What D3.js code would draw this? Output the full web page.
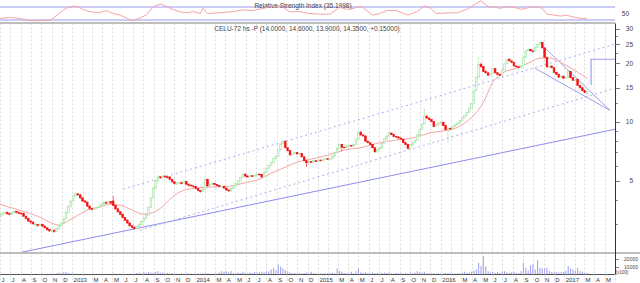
<!DOCTYPE html>
<html>
<head>
<meta charset="utf-8">
<script src="https://cdn.jsdelivr.net/npm/d3@7/dist/d3.min.js"></script>
<style>
  html, body { margin: 0; padding: 0; background: #fff; }
  svg { display: block; font-family: Arial, "Liberation Sans", sans-serif; }
</style>
</head>
<body>
<svg id="chart" width="640" height="283"></svg>
<script>
// Weekly candles, first one on 2012-06-01, one row per week: [open, high, low, close]
const firstWeek = "2012-06-01";
const candles = [
  [3.30,3.40,3.26,3.35],[3.35,3.45,3.32,3.42],[3.42,3.50,3.38,3.45],[3.45,3.48,3.36,3.40],[3.40,3.44,3.34,3.38],
  [3.38,3.48,3.36,3.45],[3.45,3.55,3.42,3.50],[3.50,3.52,3.42,3.46],[3.46,3.48,3.38,3.42],[3.42,3.45,3.36,3.40],
  [3.42,3.44,3.28,3.30],[3.30,3.32,3.18,3.22],[3.22,3.24,3.08,3.12],[3.12,3.14,3.02,3.08],[3.08,3.10,2.98,3.02],
  [2.98,3.04,2.94,3.00],[3.00,3.02,2.92,2.96],[2.96,3.04,2.94,3.00],[3.00,3.02,2.90,2.94],[2.94,2.96,2.85,2.88],
  [2.88,2.90,2.78,2.82],[2.82,2.84,2.74,2.78],[2.76,2.84,2.74,2.80],[2.80,2.82,2.72,2.76],[2.76,2.88,2.74,2.85],
  [2.85,2.98,2.82,2.95],[2.95,3.08,2.92,3.05],[3.05,3.24,3.02,3.20],[3.20,3.50,3.18,3.45],[3.45,3.75,3.42,3.70],
  [3.70,4.00,3.66,3.95],[3.95,4.25,3.90,4.20],[4.20,4.38,4.15,4.30],[4.30,4.34,4.18,4.25],[4.25,4.28,4.05,4.10],
  [4.10,4.12,3.92,3.95],[3.95,4.00,3.86,3.90],[3.90,3.92,3.68,3.72],[3.72,3.75,3.58,3.62],[3.62,3.66,3.54,3.58],
  [3.58,3.66,3.55,3.62],[3.62,3.70,3.60,3.66],[3.66,3.76,3.64,3.72],[3.72,3.84,3.70,3.80],[3.80,3.92,3.78,3.88],
  [3.88,3.92,3.82,3.86],[3.86,3.96,3.84,3.92],[3.92,3.95,3.82,3.85],[3.95,4.20,3.72,3.75],[3.75,3.78,3.56,3.60],
  [3.60,3.62,3.44,3.48],[3.48,3.50,3.34,3.38],[3.38,3.40,3.22,3.25],[3.25,3.28,3.12,3.15],[3.15,3.18,3.02,3.05],
  [3.05,3.08,2.92,2.95],[2.95,2.98,2.86,2.90],[2.90,2.92,2.82,2.86],[2.86,2.96,2.84,2.92],[2.92,3.04,2.90,3.00],
  [3.00,3.14,2.98,3.10],[3.10,3.26,3.08,3.22],[3.22,3.40,3.20,3.35],[3.35,3.70,3.32,3.65],[3.65,4.15,3.62,4.10],
  [4.10,4.65,4.05,4.60],[4.60,5.05,4.55,5.00],[5.00,5.35,4.95,5.25],[5.25,5.30,5.12,5.20],[5.20,5.40,5.15,5.30],
  [5.30,5.34,5.18,5.25],[5.25,5.32,5.15,5.20],[5.25,5.28,5.05,5.10],[5.10,5.12,4.92,4.95],[4.95,4.98,4.80,4.85],
  [4.82,4.92,4.78,4.88],[4.88,4.95,4.84,4.90],[4.90,4.94,4.80,4.85],[4.85,5.02,4.82,4.98],[4.98,5.00,4.78,4.82],
  [4.82,4.85,4.70,4.75],[4.75,4.80,4.68,4.72],[4.72,4.75,4.62,4.68],[4.68,4.70,4.54,4.58],[4.58,4.60,4.44,4.48],
  [4.48,4.50,4.36,4.42],[4.42,4.60,4.38,4.55],[4.55,5.20,4.50,5.10],[5.10,5.12,4.68,4.72],[4.72,4.86,4.70,4.80],
  [4.80,4.90,4.76,4.86],[4.86,4.88,4.76,4.80],[4.80,4.82,4.70,4.74],[4.74,4.76,4.64,4.68],[4.68,4.76,4.64,4.70],
  [4.70,4.72,4.56,4.60],[4.60,4.62,4.46,4.50],[4.50,4.52,4.40,4.45],[4.45,4.62,4.42,4.58],[4.58,4.76,4.55,4.72],
  [4.72,4.90,4.70,4.85],[4.85,5.05,4.82,5.00],[5.00,5.25,4.98,5.20],[5.20,5.48,5.18,5.42],[5.42,5.45,5.26,5.30],
  [5.30,5.34,5.20,5.25],[5.25,5.36,5.22,5.32],[5.32,5.35,5.24,5.28],[5.28,5.40,5.26,5.35],[5.35,5.46,5.32,5.42],
  [5.42,5.46,5.34,5.38],[5.40,5.42,5.20,5.25],[5.25,5.60,5.22,5.55],[5.55,5.85,5.50,5.80],[5.80,6.05,5.75,6.00],
  [6.00,6.25,5.95,6.20],[6.20,6.55,6.15,6.50],[6.50,6.75,6.45,6.70],[6.70,7.25,6.65,7.20],[7.20,7.80,7.15,7.75],
  [7.75,8.10,7.70,7.95],[7.95,8.10,7.35,7.40],[7.40,7.45,7.10,7.15],[7.15,7.20,6.75,6.80],[6.80,6.95,6.75,6.90],
  [6.90,7.05,6.85,7.00],[7.00,7.04,6.84,6.88],[6.88,6.96,6.84,6.92],[6.92,6.95,6.60,6.65],[6.65,6.68,6.30,6.35],
  [6.35,6.40,5.90,6.20],[6.20,6.32,6.15,6.28],[6.28,6.32,6.20,6.25],[6.25,6.40,6.22,6.35],[6.35,6.38,6.26,6.30],
  [6.30,6.45,6.28,6.40],[6.40,6.42,6.30,6.35],[6.35,6.50,6.32,6.45],[6.45,6.55,6.42,6.50],[6.50,6.52,6.40,6.45],
  [6.45,6.55,6.42,6.50],[6.50,6.75,6.48,6.70],[6.70,7.05,6.65,7.00],[7.00,7.40,6.95,7.35],[7.35,7.75,7.30,7.70],
  [7.70,7.75,7.10,7.45],[7.45,7.48,7.35,7.40],[7.40,7.60,7.36,7.55],[7.55,7.65,7.50,7.60],[7.60,7.62,7.50,7.55],
  [7.55,7.75,7.52,7.70],[7.70,8.25,7.65,8.20],[8.20,8.95,8.15,8.90],[8.90,9.00,8.55,8.60],[8.60,8.70,8.45,8.50],
  [8.50,8.55,7.95,8.00],[8.00,8.05,7.80,7.85],[7.85,7.90,7.65,7.70],[7.70,7.75,7.35,7.40],[7.40,7.45,7.00,7.05],
  [7.05,7.30,7.00,7.25],[7.25,7.45,7.20,7.40],[7.40,7.85,7.35,7.80],[7.80,8.25,7.75,8.20],[8.20,8.55,8.15,8.50],
  [8.50,8.90,8.45,8.80],[8.80,8.85,8.60,8.65],[8.65,8.70,8.40,8.45],[8.45,8.50,8.35,8.40],[8.40,8.45,8.25,8.30],
  [8.30,8.35,8.15,8.20],[8.20,8.25,7.80,7.85],[7.85,7.90,7.65,7.70],[7.70,7.75,7.30,7.35],[7.35,7.70,7.30,7.65],
  [7.65,7.95,7.60,7.90],[7.90,8.15,7.85,8.10],[8.10,8.65,8.05,8.60],[8.60,9.25,8.55,9.20],[9.20,9.85,9.15,9.80],
  [9.80,11.80,9.75,10.70],[10.70,10.90,10.40,10.50],[10.50,10.60,10.20,10.30],[10.30,10.40,10.00,10.10],[10.10,10.15,9.40,9.50],
  [9.50,9.80,9.45,9.70],[9.70,9.95,9.65,9.90],[9.90,10.10,9.85,10.00],[10.00,10.05,9.55,9.60],[9.60,9.65,9.10,9.15],
  [9.15,9.40,7.80,9.30],[9.30,9.40,9.15,9.25],[9.25,9.55,9.20,9.50],[9.50,9.75,9.45,9.70],[9.70,9.95,9.65,9.90],
  [9.90,10.25,9.85,10.20],[10.20,10.55,10.15,10.50],[10.50,10.85,10.45,10.80],[10.80,11.25,10.75,11.20],[11.20,11.85,11.15,11.80],
  [11.80,12.55,11.75,12.50],[12.50,14.60,12.45,14.50],[14.50,17.10,14.40,17.00],[17.00,21.50,16.90,19.80],[19.80,20.20,19.00,19.30],
  [19.30,19.40,18.10,18.20],[18.20,18.40,17.80,17.90],[17.90,18.00,17.30,17.40],[17.40,17.80,17.30,17.70],[17.70,18.90,17.60,18.80],
  [18.80,18.90,17.80,17.90],[17.90,18.00,17.50,17.60],[17.60,17.70,17.20,17.30],[17.30,18.60,17.20,18.50],[18.50,20.00,18.40,19.90],
  [19.90,21.10,19.80,21.00],[21.00,21.30,20.50,20.60],[20.60,20.70,20.10,20.20],[20.20,20.30,19.30,19.40],[19.40,19.50,19.10,19.20],
  [19.20,19.30,18.90,19.00],[19.00,19.50,18.90,19.40],[19.40,21.60,19.30,21.50],[21.50,23.30,21.40,23.20],[23.20,23.80,23.10,23.60],
  [23.60,23.70,23.10,23.20],[23.20,23.40,22.80,23.00],[23.00,24.30,22.90,24.20],[24.20,25.10,24.10,25.00],[25.00,25.90,24.90,25.60],
  [25.60,25.70,23.90,24.00],[24.00,24.10,21.40,21.50],[21.50,21.60,19.00,19.20],[19.20,19.60,19.00,19.40],[19.40,19.50,18.90,19.00],
  [19.00,19.10,17.90,18.00],[18.00,18.10,17.50,17.60],[17.60,17.70,16.90,17.00],[17.00,17.30,16.90,17.20],[17.20,17.30,16.70,16.80],
  [16.80,17.10,16.70,17.00],[17.00,18.30,16.90,18.20],[18.20,18.30,16.80,16.90],[16.90,17.00,16.30,16.40],[16.40,16.70,16.30,16.60],
  [16.60,16.70,15.30,15.40],[15.40,15.50,14.90,15.00],[15.00,15.10,14.40,14.50],[14.50,14.60,14.10,14.20],[14.00,14.60,13.90,14.35]
];

// Weekly volume, in hundreds of shares (same order as candles)
const volumes = [
  800,600,1000,700,500,900,600,800,700,500,1200,900,700,600,800,500,700,600,900,700,800,1000,700,900,
  1500,2600,1800,3000,3500,2200,
  1200,1500,900,800,1000,700,600,900,800,500,600,700,900,800,600,700,500,800,1400,900,700,800,600,900,700,1000,800,900,
  1800,2400,1500,2800,2000,3000,2500,2200,3200,4300,2400,2800,1600,2200,1400,1800,
  1300,1100,900,1200,1000,1400,900,1100,800,1000,900,1200,1500,2200,1400,1000,900,1100,1200,
  2800,4300,3600,4000,3000,4300,2000,1500,2500,1800,3500,2200,1600,2600,2000,3200,2400,2800,3600,
  3000,4300,4000,6500,8700,5500,13000,10400,7800,5500,4300,2800,1800,2200,1500,2000,1400,1800,2500,
  1600,3500,2000,1500,1200,1300,1400,1200,1600,1800,2200,1800,7800,4300,3500,2200,1800,1500,3500,1800,
  4200,7800,3000,2200,3500,2000,1600,2500,1800,2200,1500,2000,2600,1800,2400,1700,1500,2200,1600,1800,1400,2000,1600,2200,1500,2600,
  4300,3000,2400,3500,2000,1600,1400,1800,1300,1500,1200,1400,1800,2200,1300,1500,1200,1400,1600,
  1800,3500,2200,2800,3600,5200,6500,15000,11000,23400,10400,4300,2800,3500,2200,3000,2000,4000,
  4300,2800,2200,3000,3500,2000,1800,4300,15000,8700,5000,12000,13000,6500,18600,8700,7800,8000,8700,
  4300,3500,3000,3500,2500,3000,3500,5000,10800,8000,6500,5000,8700,4300,3500,2200,2000
];

// RSI (week index, value)
const rsiWeeks = [0,4,8,13,17,21,22,25,28,31,33,35,38,42,45,48,51,54,56,59,62,65,68,71,73,76,79,82,85,86,
  88,93,99,103,107,112,115,117,119,121,123,127,131,136,140,144,147,150,153,156,158,161,164,168,173,177,180,182,185,190,
  194,198,202,204,207,209,212,215,218,221,225,228,230,232,235,238,240,243,246,249];
const rsiValues = [35,38,35,28,28,30,32,50,66,73,71,63,56,52,59,50,45,35,28,35,45,71,79,71,63,56,52,56,50,66,
  50,52,56,61,59,66,73,70,75,64,55,56,50,48,48,69,63,66,73,56,45,50,59,59,45,56,73,69,50,52,
  52,63,81,89,71,71,66,71,69,63,69,71,66,48,45,42,45,40,35,35.2];

// Moving average line (week index, price)
const maWeeks = [0,8,17,21,25,28,33,37,42,47,51,56,61,64,68,72,76,83,90,97,104,111,115,121,126,134,139,146,154,160,
  168,175,182,187,192,196,202,205,209,213,219,225,229,233,240,247,249];
const maValues = [3.80,3.55,3.26,3.08,2.97,3.08,3.34,3.55,3.67,3.80,3.76,3.55,3.38,3.42,3.62,4.02,4.38,4.60,4.66,4.70,
  4.90,5.17,5.48,5.88,6.24,6.55,6.78,7.20,7.45,7.80,8.10,8.30,8.80,9.00,9.20,9.70,11.20,12.60,16.00,17.80,
  18.90,20.30,21.30,21.30,19.60,17.40,16.80];

// Drawn lines: [date, price] end points
const supportLine = [["2012-08-05", 2.16], ["2017-06-01", 9.2]];
const channelUpper = [["2013-06-01", 4.54], ["2017-06-01", 25.1]];
const channelLower = [["2013-07-22", 2.80], ["2017-06-01", 14.93]];
const wedgeUpper = [["2016-10-21", 25.4], ["2017-05-17", 11.5]];
const wedgeLower = [["2016-10-06", 18.9], ["2017-05-17", 11.5]];
const targetStep = [["2017-03-22", 15.5], ["2017-03-22", 21.0], ["2017-06-01", 21.0]];

const priceLabels = [5, 10, 15, 20, 25, 30];
const priceMinorTicks = [3, 4, 6, 7, 8, 9, 12.5, 17.5, 22.5, 27.5];
const rsiLevels = [30, 70];
const volumeLabels = [10000, 20000];

const title = "CELU-72 hs -P (14.0000, 14.6000, 13.9000, 14.3500, +0.15000)";
const rsiTitle = "Relative Strength Index (35.1998)";

// Layout
const plotRight = 615;
const rsiBottom = 22.5;
const mainTop = 23.5;
const mainBottom = 252.5;
const volBottom = 274.5;

const parse = d3.timeParse("%Y-%m-%d");
const start = parse(firstWeek);
const weekDate = (i) => d3.timeDay.offset(start, 7 * i);

const x = d3.scaleTime()
  .domain([parse("2012-06-01"), parse("2017-06-01")])
  .range([0, plotRight]);
const yPrice = d3.scaleLog().domain([5, 30]).range([181, 29]);
const yRsi = d3.scaleLinear().domain([30, 70]).range([20, 7]);
const yVol = d3.scaleLinear().domain([0, 20000]).range([volBottom, 259]);

const svg = d3.select("#chart");

svg.append("defs").append("clipPath").attr("id", "mainClip")
  .append("rect")
  .attr("x", 0).attr("y", mainTop)
  .attr("width", plotRight).attr("height", mainBottom - mainTop);

svg.append("defs").append("clipPath").attr("id", "rsiClip")
  .append("rect")
  .attr("x", 0).attr("y", 0)
  .attr("width", plotRight).attr("height", rsiBottom);

// Month grid lines through price and volume panels
const months = d3.timeMonth.range(x.domain()[0], d3.timeDay.offset(x.domain()[1], 1));
svg.append("g")
  .selectAll("line")
  .data(months)
  .enter()
  .append("line")
  .attr("x1", (d) => Math.round(x(d)) + 0.5)
  .attr("x2", (d) => Math.round(x(d)) + 0.5)
  .attr("y1", mainTop)
  .attr("y2", volBottom)
  .attr("stroke", "#d2d2d2")
  .attr("stroke-width", 0.8)
  .attr("stroke-dasharray", "2,2");

// RSI panel
svg.append("g")
  .selectAll("line")
  .data(rsiLevels)
  .enter()
  .append("line")
  .attr("x1", 0)
  .attr("x2", plotRight)
  .attr("y1", (d) => yRsi(d))
  .attr("y2", (d) => yRsi(d))
  .attr("stroke", "#9a9af2")
  .attr("stroke-width", 1);

svg.append("text")
  .attr("x", 303)
  .attr("y", 7.5)
  .attr("text-anchor", "middle")
  .attr("font-size", 6.5)
  .attr("fill", "#444")
  .text(rsiTitle);

const rsiLine = d3.line()
  .x((d, i) => x(weekDate(rsiWeeks[i])))
  .y((d) => yRsi(d));

svg.append("path")
  .datum(rsiValues)
  .attr("clip-path", "url(#rsiClip)")
  .attr("d", rsiLine)
  .attr("fill", "none")
  .attr("stroke", "#f4a4a4")
  .attr("stroke-width", 1);

svg.append("text")
  .attr("x", 629)
  .attr("y", yRsi(50))
  .attr("dy", "0.35em")
  .attr("text-anchor", "end")
  .attr("font-size", 6.5)
  .attr("fill", "#444")
  .text("50");

// Panel separators
svg.append("line")
  .attr("x1", 0).attr("x2", plotRight)
  .attr("y1", 23).attr("y2", 23)
  .attr("stroke", "#a8a8a8").attr("stroke-width", 1.5);
svg.append("line")
  .attr("x1", 0).attr("x2", 640)
  .attr("y1", 253).attr("y2", 253)
  .attr("stroke", "#a8a8a8").attr("stroke-width", 1.5);

// Price panel
const main = svg.append("g").attr("clip-path", "url(#mainClip)");

const toPoint = (p) => [x(parse(p[0])), yPrice(p[1])];
const drawn = d3.line();

main.append("path")
  .attr("d", drawn(supportLine.map(toPoint)))
  .attr("fill", "none").attr("stroke", "#8c8cee").attr("stroke-width", 1);
[channelUpper, channelLower].forEach((ln) => {
  main.append("path")
    .attr("d", drawn(ln.map(toPoint)))
    .attr("fill", "none").attr("stroke", "#a4a4f2").attr("stroke-width", 0.9)
    .attr("stroke-dasharray", "2,3");
});
[wedgeUpper, wedgeLower].forEach((ln) => {
  main.append("path")
    .attr("d", drawn(ln.map(toPoint)))
    .attr("fill", "none").attr("stroke", "#a0a0f0").attr("stroke-width", 1);
});
main.append("path")
  .attr("d", drawn(targetStep.map(toPoint)))
  .attr("fill", "none").attr("stroke", "#9c9cf0").attr("stroke-width", 1.2);

// Moving average
const maLine = d3.line()
  .curve(d3.curveMonotoneX)
  .x((d, i) => x(weekDate(maWeeks[i])))
  .y((d) => yPrice(d));

main.append("path")
  .datum(maValues)
  .attr("d", maLine)
  .attr("fill", "none")
  .attr("stroke", "#f4a4a4")
  .attr("stroke-width", 1);

// Candles
const upStroke = "#a2e2a2";
const upFill = "#f2fbf2";
const downColor = "#f41010";

const candle = main.selectAll("g.candle")
  .data(candles)
  .enter()
  .append("g")
  .attr("class", "candle");

candle.append("line")
  .attr("x1", (d, i) => x(weekDate(i)))
  .attr("x2", (d, i) => x(weekDate(i)))
  .attr("y1", (d) => yPrice(d[1]))
  .attr("y2", (d) => yPrice(d[2]))
  .attr("stroke", (d) => (d[3] >= d[0] ? upStroke : downColor))
  .attr("stroke-width", 0.6);

candle.append("rect")
  .attr("x", (d, i) => x(weekDate(i)) - 0.85)
  .attr("width", 1.7)
  .attr("y", (d) => yPrice(Math.max(d[0], d[3])))
  .attr("height", (d) => Math.max(0.6, yPrice(Math.min(d[0], d[3])) - yPrice(Math.max(d[0], d[3]))))
  .attr("fill", (d) => (d[3] >= d[0] ? upFill : downColor))
  .attr("stroke", (d) => (d[3] >= d[0] ? upStroke : downColor))
  .attr("stroke-width", 0.6);

svg.append("text")
  .attr("x", 307)
  .attr("y", 30.5)
  .attr("text-anchor", "middle")
  .attr("font-size", 6.5)
  .attr("fill", "#444")
  .text(title);

// Price axis on the right
const axisG = svg.append("g");
axisG.append("line")
  .attr("x1", plotRight + 0.5).attr("x2", plotRight + 0.5)
  .attr("y1", mainTop).attr("y2", volBottom)
  .attr("stroke", "#333").attr("stroke-width", 1);

axisG.selectAll("line.minor")
  .data(priceMinorTicks)
  .enter()
  .append("line")
  .attr("class", "minor")
  .attr("x1", plotRight).attr("x2", plotRight + 3)
  .attr("y1", (d) => Math.round(yPrice(d)) + 0.5)
  .attr("y2", (d) => Math.round(yPrice(d)) + 0.5)
  .attr("stroke", "#555").attr("stroke-width", 0.7);

axisG.selectAll("line.major")
  .data(priceLabels)
  .enter()
  .append("line")
  .attr("class", "major")
  .attr("x1", plotRight).attr("x2", plotRight + 5)
  .attr("y1", (d) => Math.round(yPrice(d)) + 0.5)
  .attr("y2", (d) => Math.round(yPrice(d)) + 0.5)
  .attr("stroke", "#555").attr("stroke-width", 0.8);

axisG.selectAll("text.price")
  .data(priceLabels)
  .enter()
  .append("text")
  .attr("class", "price")
  .attr("x", 633)
  .attr("y", (d) => yPrice(d))
  .attr("dy", "0.35em")
  .attr("text-anchor", "end")
  .attr("font-size", 6.5)
  .attr("fill", "#444")
  .text((d) => d);

// Volume panel
svg.append("g")
  .selectAll("rect")
  .data(volumes)
  .enter()
  .append("rect")
  .attr("x", (d, i) => x(weekDate(i)) - 0.5)
  .attr("width", 1.1)
  .attr("y", (d) => yVol(d))
  .attr("height", (d) => yVol(0) - yVol(d))
  .attr("fill", "#a6a6f2");

axisG.selectAll("line.vol")
  .data(volumeLabels)
  .enter()
  .append("line")
  .attr("class", "vol")
  .attr("x1", plotRight).attr("x2", plotRight + 4)
  .attr("y1", (d) => Math.round(yVol(d)) + 0.5)
  .attr("y2", (d) => Math.round(yVol(d)) + 0.5)
  .attr("stroke", "#555").attr("stroke-width", 0.7);

axisG.selectAll("text.vol")
  .data(volumeLabels)
  .enter()
  .append("text")
  .attr("class", "vol")
  .attr("x", 638)
  .attr("y", (d) => yVol(d))
  .attr("dy", "0.35em")
  .attr("text-anchor", "end")
  .attr("font-size", 5)
  .attr("fill", "#444")
  .text((d) => d);

axisG.append("text")
  .attr("x", 616)
  .attr("y", 273.5)
  .attr("font-size", 4.5)
  .attr("fill", "#444")
  .text("[x100]");

// Time axis
svg.append("line")
  .attr("x1", 0).attr("x2", plotRight)
  .attr("y1", volBottom).attr("y2", volBottom)
  .attr("stroke", "#555").attr("stroke-width", 1);

const monthLetter = d3.timeFormat("%b");
const timeTicks = svg.append("g");
timeTicks.selectAll("line")
  .data(months)
  .enter()
  .append("line")
  .attr("x1", (d) => Math.round(x(d)) + 0.5)
  .attr("x2", (d) => Math.round(x(d)) + 0.5)
  .attr("y1", volBottom)
  .attr("y2", 283)
  .attr("stroke", "#d2d2d2")
  .attr("stroke-width", 0.8)
  .attr("stroke-dasharray", "2,2");

timeTicks.selectAll("text")
  .data(months.filter((d) => d.getMonth() !== 1 && x(d) < plotRight - 2))
  .enter()
  .append("text")
  .attr("x", (d) => x(d) + 1.5)
  .attr("y", 282)
  .attr("font-size", 6)
  .attr("fill", "#333")
  .text((d) => (d.getMonth() === 0 ? d.getFullYear() : monthLetter(d)[0]));
</script>
</body>
</html>
